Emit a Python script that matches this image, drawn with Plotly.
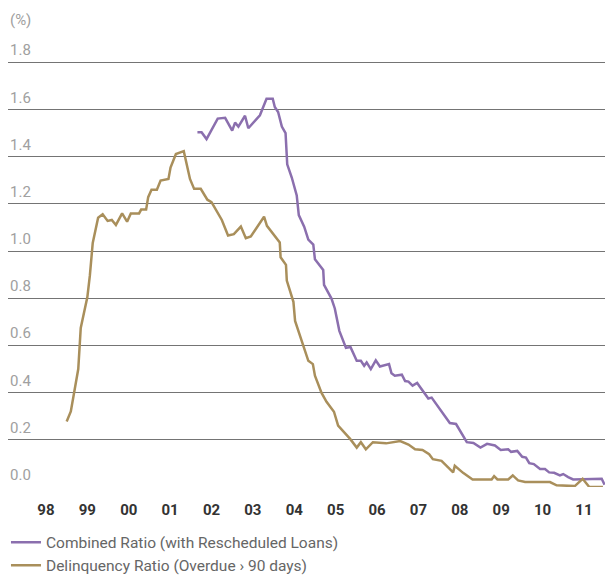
import plotly.graph_objects as go

# ---- data ----
year_ticks = [1998, 1999, 2000, 2001, 2002, 2003, 2004, 2005, 2006, 2007, 2008, 2009, 2010, 2011]
year_labels = ["98", "99", "00", "01", "02", "03", "04", "05", "06", "07", "08", "09", "10", "11"]
y_ticks = [0.0, 0.2, 0.4, 0.6, 0.8, 1.0, 1.2, 1.4, 1.6, 1.8]

combined_x = [2001.66, 2001.76, 2001.88, 2002.15, 2002.33, 2002.50, 2002.57, 2002.65, 2002.81, 2002.89,
              2003.17, 2003.33, 2003.48, 2003.53, 2003.61, 2003.70, 2003.79, 2003.83, 2003.94, 2004.06,
              2004.11, 2004.24, 2004.34, 2004.46, 2004.50, 2004.70, 2004.72, 2004.90, 2004.98, 2005.09,
              2005.25, 2005.36, 2005.51, 2005.61, 2005.69, 2005.75, 2005.85, 2005.97, 2006.07, 2006.29,
              2006.35, 2006.43, 2006.60, 2006.68, 2006.76, 2006.86, 2006.97, 2007.24, 2007.32, 2007.52,
              2007.64, 2007.76, 2007.91, 2008.17, 2008.33, 2008.50, 2008.66, 2008.85, 2008.99, 2009.17,
              2009.24, 2009.39, 2009.51, 2009.60, 2009.68, 2009.79, 2009.94, 2010.06, 2010.16, 2010.28,
              2010.42, 2010.50, 2010.62, 2010.74, 2011.43, 2011.50]
combined_y = [1.504, 1.504, 1.475, 1.562, 1.565, 1.511, 1.545, 1.528, 1.574, 1.521,
              1.576, 1.646, 1.646, 1.611, 1.590, 1.528, 1.500, 1.368, 1.312, 1.236,
              1.153, 1.104, 1.049, 1.028, 0.965, 0.920, 0.857, 0.799, 0.757, 0.662,
              0.590, 0.593, 0.535, 0.535, 0.514, 0.528, 0.500, 0.537, 0.511, 0.521,
              0.482, 0.472, 0.476, 0.449, 0.447, 0.430, 0.441, 0.375, 0.379, 0.331,
              0.305, 0.271, 0.267, 0.190, 0.187, 0.167, 0.183, 0.176, 0.157, 0.160,
              0.149, 0.153, 0.128, 0.125, 0.101, 0.097, 0.076, 0.076, 0.062, 0.060,
              0.049, 0.055, 0.042, 0.032, 0.035, 0.010]

delinq_x = [1998.50, 1998.60, 1998.78, 1998.84, 1999.00, 1999.06, 1999.13, 1999.26, 1999.37, 1999.49,
            1999.59, 1999.69, 1999.84, 1999.96, 2000.05, 2000.25, 2000.30, 2000.42, 2000.47, 2000.55,
            2000.68, 2000.77, 2000.96, 2001.01, 2001.14, 2001.33, 2001.48, 2001.58, 2001.74, 2001.90,
            2002.00, 2002.25, 2002.40, 2002.54, 2002.71, 2002.83, 2002.95, 2003.27, 2003.34, 2003.65,
            2003.67, 2003.80, 2003.82, 2003.98, 2004.02, 2004.22, 2004.34, 2004.45, 2004.50, 2004.66,
            2004.78, 2004.96, 2005.06, 2005.35, 2005.51, 2005.61, 2005.73, 2005.90, 2006.22, 2006.56,
            2006.76, 2006.92, 2007.10, 2007.26, 2007.35, 2007.56, 2007.84, 2007.88, 2008.08, 2008.31,
            2008.77, 2008.83, 2008.91, 2009.17, 2009.28, 2009.41, 2009.58, 2010.18, 2010.34, 2010.78,
            2010.97, 2011.13, 2011.46]
delinq_y = [0.278, 0.320, 0.500, 0.674, 0.805, 0.896, 1.035, 1.142, 1.156, 1.128,
            1.132, 1.111, 1.160, 1.125, 1.160, 1.160, 1.176, 1.176, 1.229, 1.260,
            1.260, 1.299, 1.306, 1.354, 1.412, 1.424, 1.306, 1.264, 1.264, 1.218,
            1.208, 1.132, 1.066, 1.072, 1.104, 1.055, 1.062, 1.146, 1.107, 1.037,
            0.974, 0.942, 0.875, 0.785, 0.704, 0.597, 0.535, 0.521, 0.472, 0.399,
            0.361, 0.319, 0.260, 0.204, 0.167, 0.190, 0.160, 0.190, 0.185, 0.195,
            0.180, 0.160, 0.157, 0.139, 0.118, 0.111, 0.062, 0.090, 0.060, 0.032,
            0.032, 0.046, 0.032, 0.032, 0.049, 0.028, 0.021, 0.021, 0.007, 0.004,
            0.035, 0.000, 0.000]

PURPLE = "#8b6fae"
GOLD = "#a98f5b"
GRID = "#747474"
FONT = "Roboto"

fig = go.Figure()
fig.add_trace(go.Scatter(x=combined_x, y=combined_y, mode="lines",
                         name="Combined Ratio (with Rescheduled Loans)",
                         line=dict(color=PURPLE, width=2.5), legendgroup="a"))
fig.add_trace(go.Scatter(x=delinq_x, y=delinq_y, mode="lines",
                         name="Delinquency Ratio (Overdue \u203a 90 days)",
                         line=dict(color=GOLD, width=2.5), legendgroup="b"))

annotations = []
for v in y_ticks:
    annotations.append(dict(x=0, xref="paper", y=v, yref="y", text=f"{v:.1f}",
                            xanchor="left", yanchor="bottom", showarrow=False,
                            xshift=0, yshift=1,
                            font=dict(family=FONT, size=15, color="#a0a0a0")))
annotations.append(dict(x=0, xref="paper", y=1, yref="paper", text="(%)",
                        xanchor="left", yanchor="middle", showarrow=False,
                        yshift=10, font=dict(family=FONT, size=15, color="#a0a0a0")))

fig.update_layout(
    width=605, height=583,
    margin=dict(l=8, r=0, t=30, b=88),
    paper_bgcolor="white", plot_bgcolor="white",
    font=dict(family=FONT),
    showlegend=True,
    legend=dict(orientation="v", x=-0.0034, xanchor="left", y=-0.0845, yanchor="top",
                font=dict(family=FONT, size=15.5, color="#666666"),
                tracegroupgap=0, bgcolor="rgba(0,0,0,0)"),
    annotations=annotations,
)
fig.update_xaxes(range=[1997.082, 2011.51], tickmode="array", tickvals=year_ticks,
                 ticktext=year_labels, showgrid=False, zeroline=False, showline=False,
                 ticks="", ticklabelstandoff=12,
                 tickfont=dict(family=FONT, size=15, color="#333333", weight="bold"))
fig.update_yaxes(range=[0, 1.9375], tickmode="array", tickvals=y_ticks,
                 showticklabels=False, showgrid=True, gridcolor=GRID, gridwidth=1.2,
                 zeroline=False, showline=False, ticks="")

fig.write_html("out.html", config={"displayModeBar": False},
               post_script="document.body.style.margin='0';document.body.style.overflow='hidden';")
